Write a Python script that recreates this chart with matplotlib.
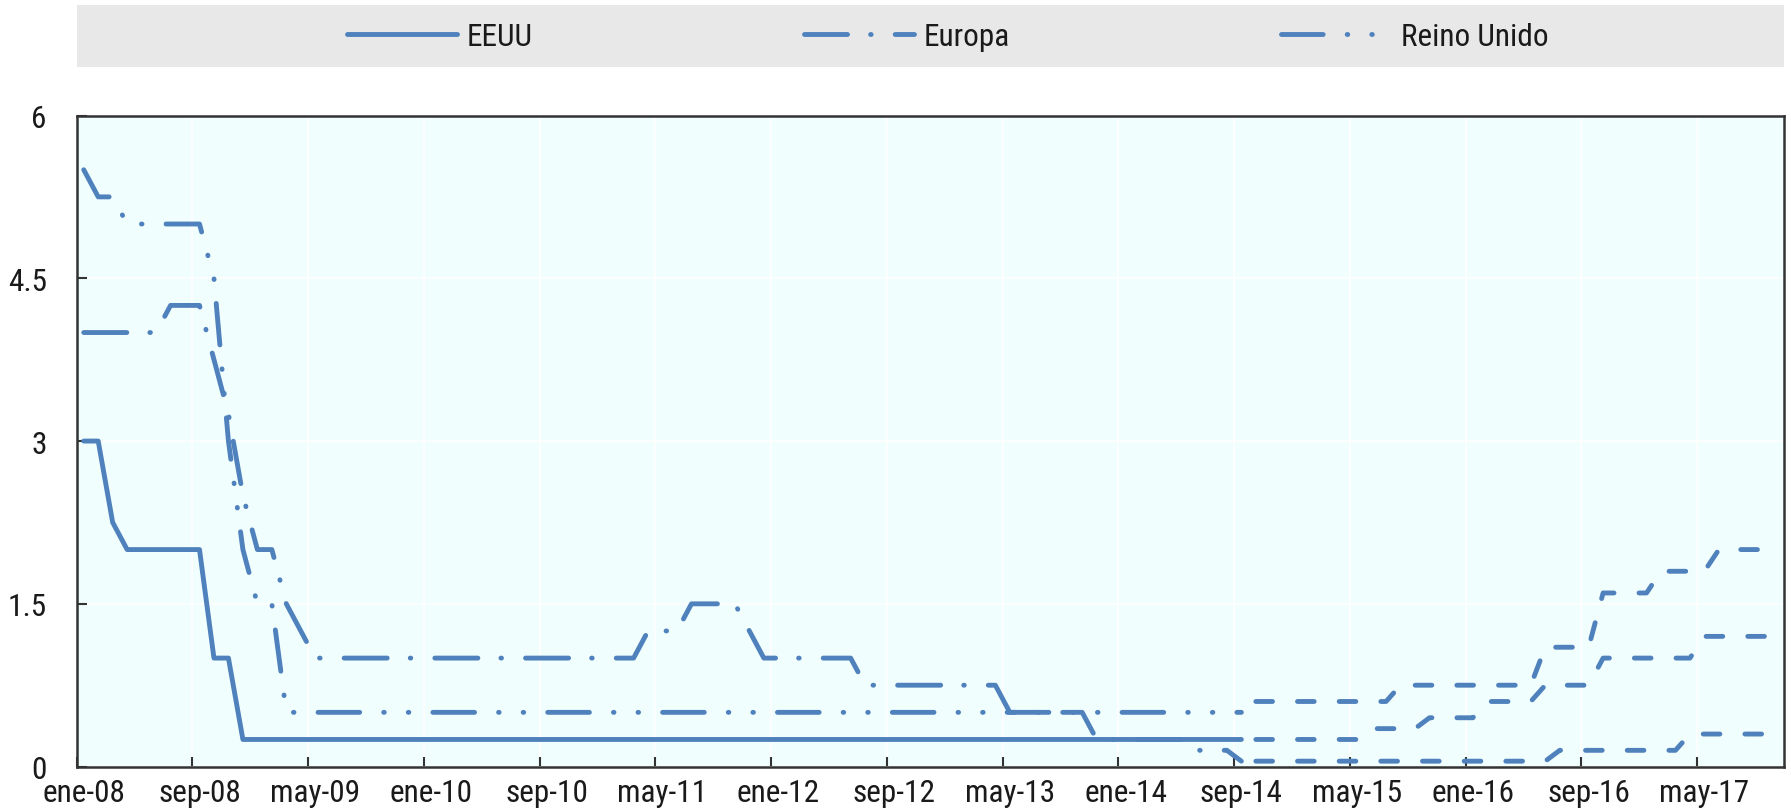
import os
import numpy as np
import matplotlib.pyplot as plt
from matplotlib import font_manager
from matplotlib.font_manager import FontProperties
from matplotlib.patches import Rectangle

# fuente estrecha tipo Arial Narrow si existe
candidatos = ['LiberationSansNarrow-Regular', 'ArialNarrow', 'Arial Narrow', 'NotoSans-Condensed.',
              'RobotoCondensed-Regular', 'NimbusSansNarrow-Regular', 'DejaVuSansCondensed.']
archivos = [f.fname for f in font_manager.fontManager.ttflist]
fuente = None
for c in candidatos:
    hits = [a for a in archivos if c in os.path.basename(a)]
    if hits:
        fuente = hits[0]
        break
tsize = 22.5
if fuente:
    fp = FontProperties(fname=fuente, size=tsize)
else:
    fp = FontProperties(family=['Liberation Sans', 'DejaVu Sans'], size=tsize * 0.88)

plt.rcParams['lines.scale_dashes'] = False

# tipos oficiales mensuales, ene-08 .. sep-14
eeuu = [3.0, 3.0, 2.25, 2.0, 2.0, 2.0, 2.0, 2.0, 2.0, 1.0, 1.0, 0.25,
        0.25, 0.25, 0.25, 0.25, 0.25, 0.25, 0.25, 0.25, 0.25, 0.25, 0.25, 0.25,
        0.25, 0.25, 0.25, 0.25, 0.25, 0.25, 0.25, 0.25, 0.25, 0.25, 0.25, 0.25,
        0.25, 0.25, 0.25, 0.25, 0.25, 0.25, 0.25, 0.25, 0.25, 0.25, 0.25, 0.25,
        0.25, 0.25, 0.25, 0.25, 0.25, 0.25, 0.25, 0.25, 0.25, 0.25, 0.25, 0.25,
        0.25, 0.25, 0.25, 0.25, 0.25, 0.25, 0.25, 0.25, 0.25, 0.25, 0.25, 0.25,
        0.25, 0.25, 0.25, 0.25, 0.25, 0.25, 0.25, 0.25, 0.25]
europa = [4.0, 4.0, 4.0, 4.0, 4.0, 4.0, 4.25, 4.25, 4.25, 3.75, 3.25, 2.5,
          2.0, 2.0, 1.5, 1.25, 1.0, 1.0, 1.0, 1.0, 1.0, 1.0, 1.0, 1.0,
          1.0, 1.0, 1.0, 1.0, 1.0, 1.0, 1.0, 1.0, 1.0, 1.0, 1.0, 1.0,
          1.0, 1.0, 1.0, 1.25, 1.25, 1.25, 1.5, 1.5, 1.5, 1.5, 1.25, 1.0,
          1.0, 1.0, 1.0, 1.0, 1.0, 1.0, 0.75, 0.75, 0.75, 0.75, 0.75, 0.75,
          0.75, 0.75, 0.75, 0.75, 0.5, 0.5, 0.5, 0.5, 0.5, 0.5, 0.25, 0.25,
          0.25, 0.25, 0.25, 0.25, 0.25, 0.15, 0.15, 0.15, 0.05]
reino_unido = [5.5, 5.25, 5.25, 5.0, 5.0, 5.0, 5.0, 5.0, 5.0, 4.5, 3.0, 2.0,
               1.5, 1.5, 0.5, 0.5, 0.5, 0.5, 0.5, 0.5, 0.5, 0.5, 0.5, 0.5,
               0.5, 0.5, 0.5, 0.5, 0.5, 0.5, 0.5, 0.5, 0.5, 0.5, 0.5, 0.5,
               0.5, 0.5, 0.5, 0.5, 0.5, 0.5, 0.5, 0.5, 0.5, 0.5, 0.5, 0.5,
               0.5, 0.5, 0.5, 0.5, 0.5, 0.5, 0.5, 0.5, 0.5, 0.5, 0.5, 0.5,
               0.5, 0.5, 0.5, 0.5, 0.5, 0.5, 0.5, 0.5, 0.5, 0.5, 0.5, 0.5,
               0.5, 0.5, 0.5, 0.5, 0.5, 0.5, 0.5, 0.5, 0.5]

# expectativas (linea discontinua), oct-14 .. oct-17
eeuu_proy = [0.25, 0.25, 0.25,
             0.25, 0.25, 0.25, 0.25, 0.25, 0.35, 0.35, 0.35, 0.35, 0.45, 0.45, 0.45,
             0.45, 0.6, 0.6, 0.6, 0.6, 0.75, 0.75, 0.75, 0.75, 1.0, 1.0, 1.0,
             1.0, 1.0, 1.0, 1.0, 1.2, 1.2, 1.2, 1.2, 1.2, 1.2]
europa_proy = [0.05, 0.05, 0.05,
               0.05, 0.05, 0.05, 0.05, 0.05, 0.05, 0.05, 0.05, 0.05, 0.05, 0.05, 0.05,
               0.05, 0.05, 0.05, 0.05, 0.05, 0.05, 0.15, 0.15, 0.15, 0.15, 0.15, 0.15,
               0.15, 0.15, 0.15, 0.3, 0.3, 0.3, 0.3, 0.3, 0.3, 0.3]
reino_unido_proy = [0.6, 0.6, 0.6,
                    0.6, 0.6, 0.6, 0.6, 0.6, 0.6, 0.6, 0.75, 0.75, 0.75, 0.75, 0.75,
                    0.75, 0.75, 0.75, 0.75, 0.75, 1.1, 1.1, 1.1, 1.1, 1.6, 1.6, 1.6,
                    1.6, 1.8, 1.8, 1.8, 1.8, 2.0, 2.0, 2.0, 2.0, 2.0]

tick_labels = ['ene-08', 'sep-08', 'may-09', 'ene-10', 'sep-10', 'may-11', 'ene-12', 'sep-12',
               'may-13', 'ene-14', 'sep-14', 'may-15', 'ene-16', 'sep-16', 'may-17']
n_months = 118
tick_step = 8

blue = '#4F81BD'
txt = '#1a1a1a'
lw = 3.5
dash_europa = (0, (31, 16.6, 0.4, 17.3))
dash_ru = (0, (30, 17.3, 0.4, 17.3, 0.4, 17.3))
dash_proy = (0, (12, 18))

fig = plt.figure(figsize=(17.91, 8.12), dpi=100)
ax = fig.add_axes([76.5 / 1791, 1 - 767.6 / 812, (1784 - 76.5) / 1791, (767.6 - 116.5) / 812])
ax.set_facecolor('#F1FEFE')

x_act = np.arange(len(eeuu)) + 0.5
x_proy = np.arange(len(eeuu), len(eeuu) + len(eeuu_proy)) + 0.5

l_ru, = ax.plot(x_act, reino_unido, color=blue, lw=lw, linestyle=dash_ru,
                dash_capstyle='round', label='Reino Unido')
l_eu, = ax.plot(x_act, europa, color=blue, lw=lw, linestyle=dash_europa,
                dash_capstyle='round', label='Europa')
l_us, = ax.plot(x_act, eeuu, color=blue, lw=lw, solid_joinstyle='round',
                solid_capstyle='round', label='EEUU')
for serie in (eeuu_proy, europa_proy, reino_unido_proy):
    ax.plot(x_proy, serie, color=blue, lw=lw, linestyle=dash_proy, dash_capstyle='round')

ax.set_xlim(0, n_months)
ax.set_ylim(0, 6)

# etiquetas centradas en el mes, marcas en el limite
ax.set_xticks(np.arange(0, n_months, tick_step) + 0.5)
ax.set_xticklabels(tick_labels, fontproperties=fp, color=txt)
ax.set_xticks(np.arange(0, n_months, tick_step), minor=True)
ax.tick_params(axis='x', which='major', length=0, pad=8)
ax.tick_params(axis='x', which='minor', direction='in', length=7, width=1.5, color='#333333')

ax.set_yticks([0, 1.5, 3, 4.5, 6])
ax.set_yticklabels(['0', '1.5', '3', '4.5', '6'], fontproperties=fp, color=txt)
ax.tick_params(axis='y', direction='in', length=7, width=1.5, color='#333333', pad=21.5)

ax.grid(which='minor', axis='x', color='white', lw=1.2)
ax.grid(which='major', axis='y', color='white', lw=1.2)
ax.set_axisbelow(True)
for s in ax.spines.values():
    s.set_color('#333333')
    s.set_linewidth(1.8)

# banda de leyenda
fig.patches.append(Rectangle((76.5 / 1791, 1 - 68 / 812), (1784 - 76.5) / 1791, 62 / 812,
                             transform=fig.transFigure, facecolor='#E8E8E8', edgecolor='none'))
fig.legend(handles=[l_us, l_eu, l_ru], loc='center left', ncol=3,
           bbox_to_anchor=(346.7 / 1791, 1 - 37 / 812), frameon=False, prop=fp,
           handlelength=3.52, handletextpad=0.32, columnspacing=8.67,
           borderpad=0, borderaxespad=0, labelcolor=txt)

fig.savefig('out.png', dpi=100)
